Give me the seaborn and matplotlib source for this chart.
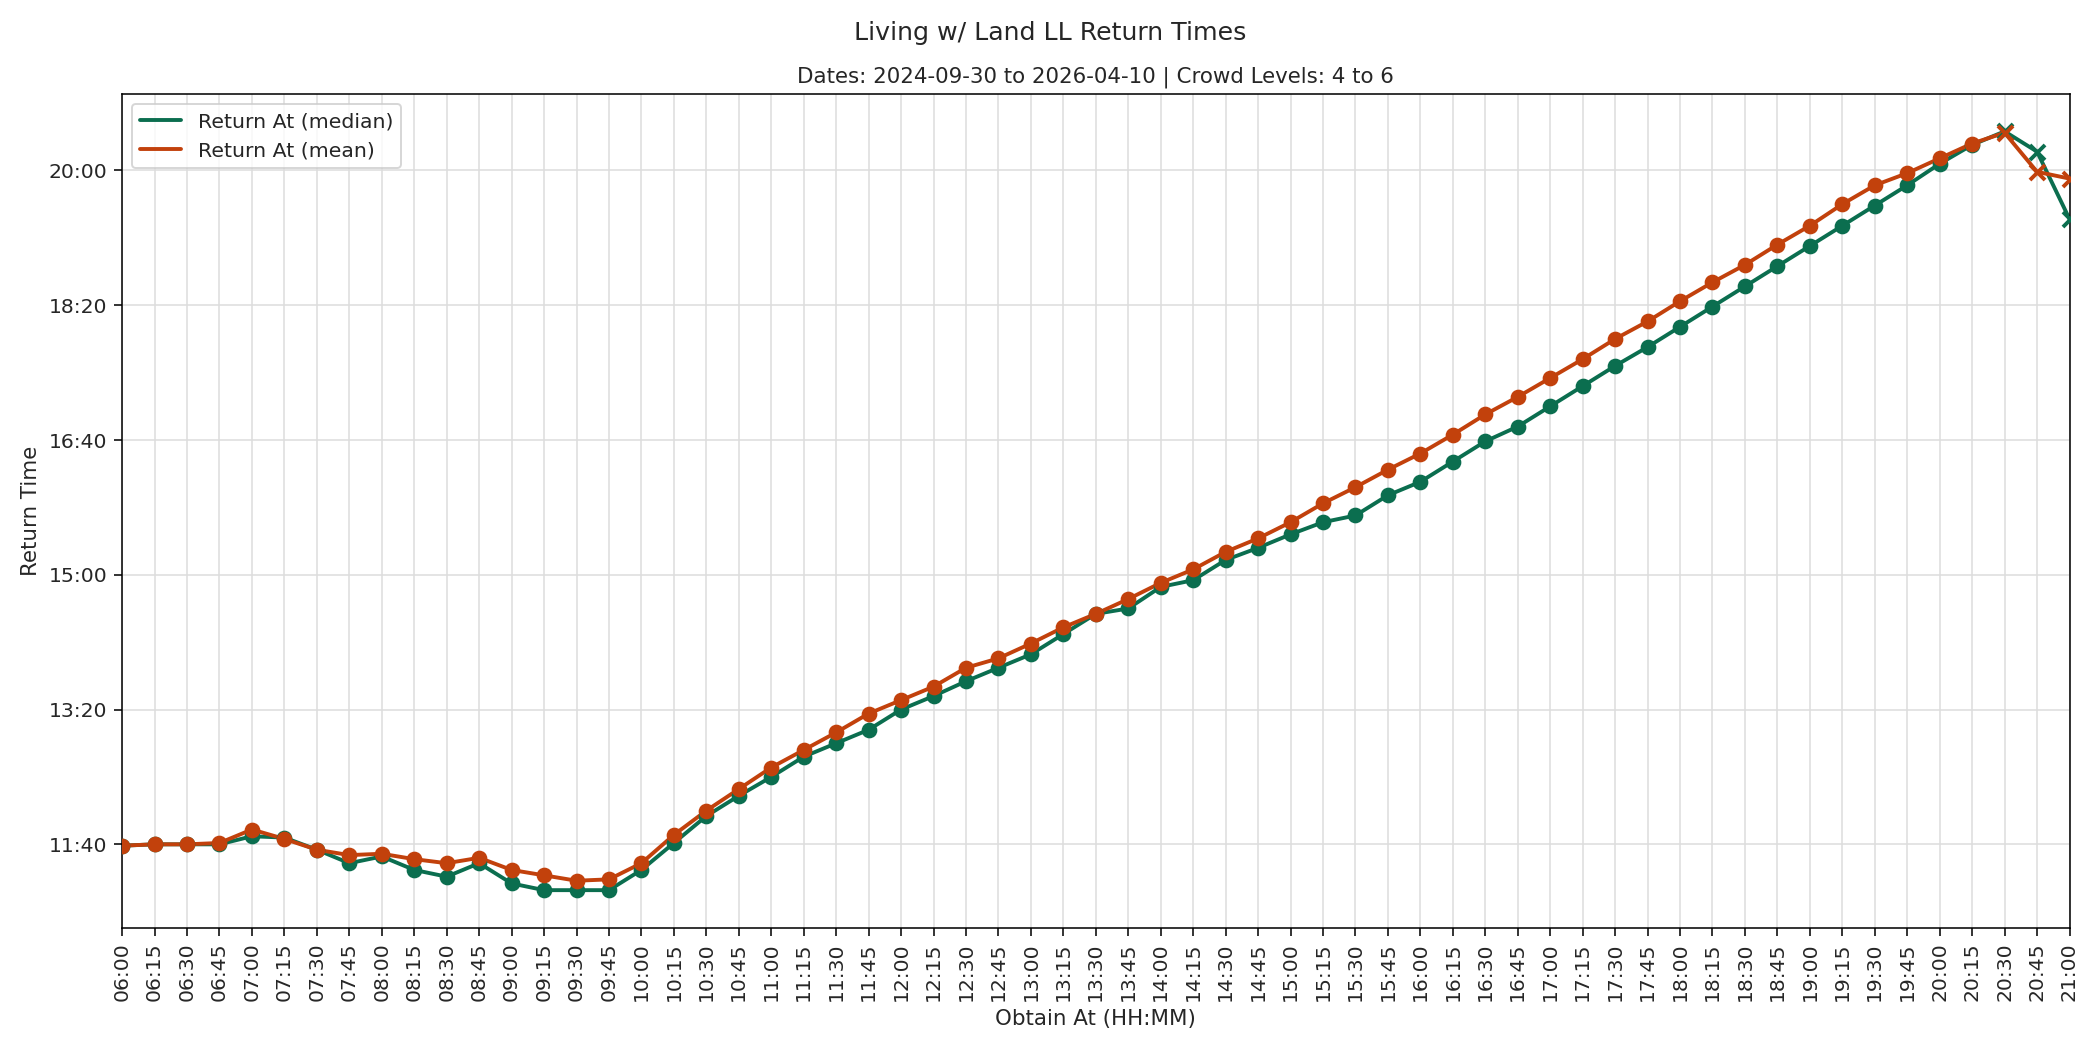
import numpy as np
import pandas as pd
import matplotlib
matplotlib.use('Agg')
import matplotlib.pyplot as plt
import seaborn as sns

# obtain times every 15 min from 06:00 to 21:00 (minutes after midnight)
obtain_min = list(range(360, 1261, 15))

# return times, minutes after midnight
median_ret = [699, 700, 700, 700, 706, 705, 696, 686, 691, 681, 676, 686, 671, 666, 666, 666,
              681, 701, 721, 736, 750, 765, 775, 785, 800, 810, 821, 831, 841, 856, 871, 875,
              891, 896, 911, 920, 930, 939, 944, 959, 969, 984, 999, 1010, 1025, 1040, 1055,
              1069, 1084, 1099, 1114, 1129, 1144, 1159, 1174, 1189, 1205, 1219, 1229, 1214, 1164]
mean_ret = [699, 700, 700, 701, 711, 704, 696, 692, 693, 689, 686, 690, 681, 677, 673, 674,
            686, 707, 725, 741, 757, 770, 783, 797, 807, 817, 831, 838, 849, 861, 871, 882,
            894, 904, 917, 927, 939, 953, 965, 978, 990, 1004, 1019, 1032, 1046, 1060, 1075,
            1088, 1103, 1117, 1130, 1145, 1159, 1175, 1189, 1198, 1209, 1220, 1228, 1199, 1194]
# last three slots have few samples -> drawn with x markers
sparse_from = 1230

GREEN = '#0b6e4f'
ORANGE = '#c2410c'

def hhmm(m):
    return f'{int(m) // 60:02d}:{int(m) % 60:02d}'

df = pd.DataFrame({'obtain': obtain_min, 'median': median_ret, 'mean': mean_ret})

sns.set_style('white')
fig, ax = plt.subplots(figsize=(15, 7.5), dpi=140)

for col, color, label in [('median', GREEN, 'Return At (median)'), ('mean', ORANGE, 'Return At (mean)')]:
    sns.lineplot(data=df, x='obtain', y=col, color=color, lw=2, label=label, ax=ax)
    dense = df[df['obtain'] < sparse_from]
    sparse = df[df['obtain'] >= sparse_from]
    ax.scatter(dense['obtain'], dense[col], color=color, s=50, zorder=3)
    ax.scatter(sparse['obtain'], sparse[col], color=color, marker='x', s=60, linewidths=2, zorder=3)

ax.set_xlim(360, 1260)
ax.set_ylim(638, 1257)
ax.set_xticks(obtain_min)
ax.set_xticklabels([hhmm(m) for m in obtain_min], rotation=90)
yt = [700, 800, 900, 1000, 1100, 1200]
ax.set_yticks(yt)
ax.set_yticklabels([hhmm(m) for m in yt])
ax.grid(True, color='#dddddd', lw=0.8)
for s in ax.spines.values():
    s.set_color('black')
ax.tick_params(axis='both', length=4, color='black', labelsize=10.5, direction='out', bottom=True, left=True)

ax.set_xlabel('Obtain At (HH:MM)', fontsize=11)
ax.set_ylabel('Return Time', fontsize=11)
ax.set_title('Dates: 2024-09-30 to 2026-04-10 | Crowd Levels: 4 to 6', fontsize=11)
fig.suptitle('Living w/ Land LL Return Times', fontsize=13)
ax.legend(loc='upper left', fontsize=10.5)

plt.tight_layout()
plt.savefig('out.png', dpi=140)
